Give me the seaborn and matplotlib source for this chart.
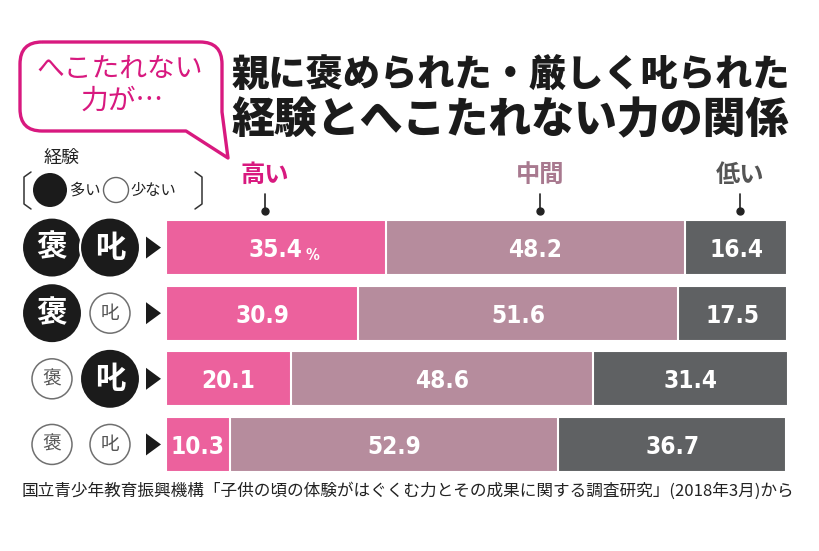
import numpy as np
import pandas as pd
import matplotlib
matplotlib.use("Agg")
import matplotlib.pyplot as plt
import seaborn as sns
from matplotlib.patches import Circle, Polygon, PathPatch
from matplotlib.path import Path

# ---------------- data ----------------
rows = ["褒叱", "褒", "叱", "なし"]
praise_many = [True, True, False, False]
scold_many = [True, False, True, False]
high = [35.4, 30.9, 20.1, 10.3]
mid = [48.2, 51.6, 48.6, 52.9]
low = [16.4, 17.5, 31.4, 36.7]
headers = ["高い", "中間", "低い"]
title_lines = ["親に褒められた・厳しく叱られた", "経験とへこたれない力の関係"]
bubble_lines = ["へこたれない", "力が…"]
source = "国立青少年教育振興機構「子供の頃の体験がはぐくむ力とその成果に関する調査研究」(2018年3月)から"

PINK = "#EC619D"
MAUVE = "#B68C9D"
GRAY = "#5F6163"
MAGENTA = "#D8197F"

sns.set_theme(style="white")
plt.rcParams["font.family"] = ["Noto Sans CJK JP", "DejaVu Sans"]

W, H = 820, 551
fig = plt.figure(figsize=(W / 100, H / 100), dpi=100)
fig.patch.set_facecolor("white")
ax = fig.add_axes([166 / W, (H - 472) / H, 621 / W, 252 / H])

df = pd.DataFrame({"row": rows, "high": high, "mid": mid, "low": low})
df["c1"] = df["high"]
df["c2"] = df["high"] + df["mid"]
df["c3"] = df["c2"] + df["low"]

for col, color in [("c3", GRAY), ("c2", MAUVE), ("c1", PINK)]:
    sns.barplot(data=df, x=col, y="row", order=rows, orient="h", color=color,
                width=0.84, edgecolor="white", linewidth=1.5, errorbar=None,
                saturation=1, ax=ax)

ax.set_xlim(0, 100)
ax.set_ylim(3.42, -0.42)
ax.axis("off")

numfont = dict(family="DejaVu Sans", fontstretch="condensed", fontweight="bold",
               color="white", fontsize=17.5)
for i in range(len(rows)):
    starts = [0, df["c1"][i], df["c2"][i]]
    vals = [high[i], mid[i], low[i]]
    for s, v in zip(starts, vals):
        t = ax.text(s + v / 2, i, f"{v:.1f}", ha="center", va="center_baseline", **numfont)
        if i == 0 and s == 0:
            ax.annotate("%", xy=(1, 0), xycoords=t, xytext=(2, -1), textcoords="offset points",
                        ha="left", va="bottom", family="DejaVu Sans", fontstretch="condensed",
                        fontweight="bold", color="white", fontsize=11)

# ---------------- overlay in pixel coords ----------------
ov = fig.add_axes([0, 0, 1, 1])
ov.set_xlim(0, W)
ov.set_ylim(H, 0)
ov.axis("off")
ov.patch.set_alpha(0)

row_y = [H - ax.transData.transform((0, i))[1] for i in range(len(rows))]

for i, y in enumerate(row_y):
    for cx, filled, ch in [(52, praise_many[i], "褒"), (110, scold_many[i], "叱")]:
        if filled:
            ov.add_patch(Circle((cx, y), 30, fc="#1b1b1b", ec="white", lw=1.5, zorder=3))
            ov.text(cx, y, ch, ha="center", va="center", color="white", fontsize=22,
                    fontweight="bold", zorder=4)
        else:
            ov.add_patch(Circle((cx, y), 20, fc="white", ec="#707070", lw=1.1, zorder=3))
            ov.text(cx, y, ch, ha="center", va="center", color="#555555", fontsize=13.5,
                    zorder=4)
    ov.add_patch(Polygon([(146, y - 11), (161, y), (146, y + 11)], closed=True,
                         fc="#1b1b1b", ec="none"))

# column headers with pointer ticks
for lab, x, c in zip(headers, [265, 540, 740], [MAGENTA, "#A8798F", "#555555"]):
    ov.text(x, 175, lab, ha="center", va="center", fontsize=17.5, fontweight="bold", color=c)
    ov.plot([x, x], [194, 210], color="#222222", lw=1.2)
    ov.plot([x], [211], "o", ms=5, color="#222222")

# title
renderer = fig.canvas.get_renderer()
for line, y in zip(title_lines, [76, 121]):
    t = ov.text(232, y, line, ha="left", va="center", fontsize=27, fontweight="heavy",
                color="#1b1b1b")
    w = t.get_window_extent(renderer).width
    t.set_fontsize(27 * 558 / w)

# speech bubble
x0, x1, y0, y1, r = 20, 222, 42, 131, 22
verts = [(x0 + r, y0), (x1 - r, y0), (x1, y0), (x1, y0 + r), (x1, 112), (228, 158),
         (186, y1), (x0 + r, y1), (x0, y1), (x0, y1 - r), (x0, y0 + r), (x0, y0),
         (x0 + r, y0)]
codes = [Path.MOVETO, Path.LINETO, Path.CURVE3, Path.CURVE3, Path.LINETO, Path.LINETO,
         Path.LINETO, Path.LINETO, Path.CURVE3, Path.CURVE3, Path.LINETO, Path.CURVE3,
         Path.CURVE3]
ov.add_patch(PathPatch(Path(verts, codes), fc="white", ec=MAGENTA, lw=2.4, joinstyle="round"))
ov.text(120, 69, bubble_lines[0], ha="center", va="center", fontsize=20, color=MAGENTA)
ov.text(122, 101, bubble_lines[1], ha="center", va="center", fontsize=20, color=MAGENTA)

# legend
ov.text(62, 158, "経験", ha="center", va="center", fontsize=13, color="#222222")
ov.plot([31, 24, 24, 31], [172, 177, 204, 209], color="#333333", lw=1.1)
ov.plot([195, 202, 202, 195], [172, 177, 204, 209], color="#333333", lw=1.1)
ov.add_patch(Circle((50, 190), 17, fc="#1b1b1b", ec="none"))
ov.text(70, 190, "多い", ha="left", va="center", fontsize=11, color="#222222")
ov.add_patch(Circle((116, 190), 12.5, fc="white", ec="#666666", lw=1.0))
ov.text(130, 190, "少ない", ha="left", va="center", fontsize=11, color="#222222")

# source
t = ov.text(22, 491, source, ha="left", va="center", fontsize=12, color="#222222")
w = t.get_window_extent(renderer).width
t.set_fontsize(12 * 773 / w)

fig.savefig("out.png", dpi=100, facecolor="white")
